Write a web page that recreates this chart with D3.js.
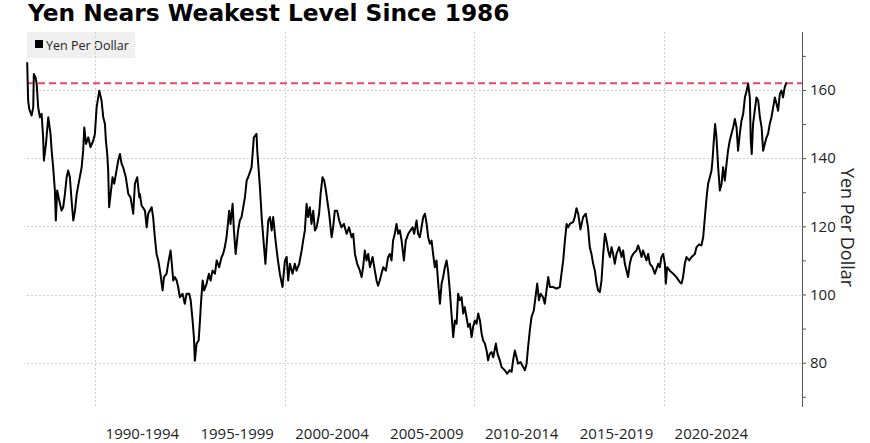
<!DOCTYPE html>
<html>
<head>
<meta charset="utf-8">
<script src="https://cdn.jsdelivr.net/npm/d3@7"></script>
<style>
	body { margin: 0; background: #fff; }
	svg { display: block; }
</style>
</head>
<body>
<svg id="chart" width="870" height="443"></svg>
<script>
// values (decimal year, yen per dollar)
var years = [
	1986.43, 1986.48, 1986.54, 1986.66, 1986.75, 1986.78, 1986.87, 1986.93, 1987.01, 1987.10,
	1987.19, 1987.27, 1987.31, 1987.42, 1987.54, 1987.66, 1987.72, 1987.80, 1987.89, 1987.94,
	1988.01, 1988.12, 1988.24, 1988.33, 1988.42, 1988.51, 1988.59, 1988.68, 1988.77, 1988.86,
	1988.95, 1989.04, 1989.17, 1989.30, 1989.38, 1989.44, 1989.53, 1989.65, 1989.77, 1989.91,
	1990.00, 1990.09, 1990.23, 1990.35, 1990.44, 1990.53, 1990.58, 1990.65, 1990.70, 1990.75,
	1990.83, 1990.93, 1991.02, 1991.14, 1991.23, 1991.32, 1991.41, 1991.49, 1991.63, 1991.76,
	1991.88, 1992.02, 1992.11, 1992.23, 1992.34, 1992.37, 1992.46, 1992.64, 1992.73, 1992.81,
	1992.99, 1993.07, 1993.16, 1993.25, 1993.34, 1993.43, 1993.57, 1993.64, 1993.78, 1993.86,
	1993.99, 1994.04, 1994.13, 1994.22, 1994.31, 1994.39, 1994.48, 1994.62, 1994.74, 1994.83,
	1994.97, 1995.05, 1995.15, 1995.22, 1995.27, 1995.36, 1995.47, 1995.54, 1995.59, 1995.68,
	1995.76, 1995.89, 1996.01, 1996.10, 1996.20, 1996.33, 1996.42, 1996.55, 1996.68, 1996.76,
	1996.85, 1996.94, 1997.03, 1997.08, 1997.15, 1997.26, 1997.33, 1997.42, 1997.55, 1997.64,
	1997.73, 1997.91, 1998.00, 1998.08, 1998.26, 1998.38, 1998.52, 1998.56, 1998.70, 1998.80,
	1998.99, 1999.14, 1999.23, 1999.32, 1999.40, 1999.54, 1999.65, 1999.75, 1999.89, 2000.02,
	2000.11, 2000.19, 2000.28, 2000.42, 2000.54, 2000.63, 2000.77, 2000.90, 2000.98, 2001.07,
	2001.16, 2001.24, 2001.33, 2001.42, 2001.51, 2001.60, 2001.69, 2001.82, 2001.90, 2002.00,
	2002.09, 2002.18, 2002.25, 2002.35, 2002.48, 2002.56, 2002.65, 2002.77, 2002.88, 2003.00,
	2003.13, 2003.27, 2003.40, 2003.53, 2003.62, 2003.71, 2003.83, 2003.97, 2004.06, 2004.14,
	2004.23, 2004.32, 2004.41, 2004.50, 2004.64, 2004.76, 2004.85, 2004.93, 2005.02, 2005.11,
	2005.20, 2005.34, 2005.46, 2005.55, 2005.64, 2005.72, 2005.81, 2005.90, 2005.99, 2006.08,
	2006.17, 2006.29, 2006.39, 2006.52, 2006.64, 2006.75, 2006.83, 2006.96, 2007.04, 2007.13,
	2007.22, 2007.31, 2007.40, 2007.49, 2007.57, 2007.66, 2007.75, 2007.83, 2007.92, 2008.01,
	2008.10, 2008.19, 2008.28, 2008.36, 2008.45, 2008.54, 2008.62, 2008.71, 2008.80, 2008.89,
	2008.98, 2009.07, 2009.15, 2009.24, 2009.33, 2009.42, 2009.50, 2009.59, 2009.68, 2009.77,
	2009.86, 2009.94, 2010.03, 2010.12, 2010.21, 2010.30, 2010.39, 2010.47, 2010.56, 2010.65,
	2010.73, 2010.82, 2010.91, 2011.00, 2011.14, 2011.23, 2011.35, 2011.44, 2011.61, 2011.73,
	2011.88, 2011.97, 2012.05, 2012.14, 2012.23, 2012.31, 2012.44, 2012.58, 2012.67, 2012.76,
	2012.84, 2012.93, 2013.02, 2013.14, 2013.25, 2013.32, 2013.41, 2013.50, 2013.63, 2013.72,
	2013.81, 2013.90, 2013.99, 2014.16, 2014.34, 2014.51, 2014.60, 2014.69, 2014.78, 2014.87,
	2014.95, 2015.04, 2015.21, 2015.30, 2015.39, 2015.48, 2015.60, 2015.74, 2015.88, 2016.00,
	2016.09, 2016.18, 2016.27, 2016.36, 2016.45, 2016.53, 2016.62, 2016.71, 2016.80, 2016.89,
	2016.97, 2017.06, 2017.15, 2017.24, 2017.32, 2017.41, 2017.50, 2017.64, 2017.77, 2017.85,
	2017.94, 2018.03, 2018.11, 2018.20, 2018.29, 2018.38, 2018.55, 2018.64, 2018.73, 2018.82,
	2018.90, 2018.99, 2019.08, 2019.17, 2019.26, 2019.40, 2019.52, 2019.61, 2019.70, 2019.78,
	2019.87, 2019.96, 2020.05, 2020.10, 2020.17, 2020.31, 2020.49, 2020.66, 2020.84, 2020.93,
	2021.01, 2021.10, 2021.19, 2021.33, 2021.46, 2021.63, 2021.72, 2021.86, 2021.98, 2022.07,
	2022.16, 2022.25, 2022.33, 2022.42, 2022.51, 2022.56, 2022.63, 2022.70, 2022.77, 2022.86,
	2022.95, 2023.04, 2023.12, 2023.21, 2023.30, 2023.38, 2023.47, 2023.56, 2023.65, 2023.74,
	2023.83, 2023.91, 2024.00, 2024.09, 2024.18, 2024.27, 2024.36, 2024.44, 2024.53, 2024.58,
	2024.63, 2024.70, 2024.79, 2024.88, 2024.97, 2025.06, 2025.15, 2025.23, 2025.32, 2025.41,
	2025.49, 2025.58, 2025.67, 2025.76, 2025.85, 2025.94, 2026.02, 2026.11, 2026.20, 2026.28,
	2026.37, 2026.46
];

var yenPerDollar = [
	168.1, 156.9, 154.4, 152.5, 154.9, 164.7, 163.7, 161.8, 154.9, 152.0,
	153.0, 146.1, 139.3, 144.2, 152.0, 147.1, 142.2, 137.3, 130.5, 121.7,
	130.5, 127.6, 124.6, 125.6, 129.5, 134.4, 136.4, 134.4, 127.6, 121.7,
	124.6, 129.5, 133.4, 137.3, 142.2, 149.0, 144.2, 146.1, 143.2, 145.1,
	147.1, 154.9, 159.8, 156.9, 152.0, 150.0, 145.1, 141.2, 136.4, 125.6,
	129.5, 134.4, 132.5, 136.4, 139.3, 141.2, 138.3, 137.3, 134.4, 129.5,
	128.5, 123.7, 132.5, 134.4, 128.5, 129.5, 126.1, 124.6, 119.7, 123.7,
	125.6, 122.7, 116.8, 111.9, 110.0, 107.0, 101.2, 105.1, 106.1, 109.0,
	112.9, 110.0, 104.1, 105.1, 104.1, 102.2, 99.2, 100.2, 97.3, 100.2,
	100.2, 98.3, 92.4, 87.5, 80.6, 85.6, 86.5, 92.4, 97.3, 104.1,
	101.2, 103.2, 106.1, 104.1, 107.0, 106.1, 110.0, 108.0, 111.0, 111.9,
	113.9, 116.8, 121.7, 124.6, 120.7, 126.6, 118.8, 111.9, 118.8, 121.7,
	122.7, 128.5, 133.4, 134.4, 137.3, 146.1, 147.1, 142.2, 131.5, 122.0,
	109.0, 121.7, 122.7, 118.8, 122.7, 115.0, 110.0, 106.1, 102.2, 110.0,
	111.0, 104.1, 109.0, 106.1, 109.0, 107.0, 109.0, 112.9, 115.8, 118.8,
	126.6, 122.7, 125.6, 120.7, 124.6, 118.8, 119.7, 123.7, 129.5, 134.4,
	133.4, 130.5, 127.6, 123.7, 116.8, 119.7, 124.6, 124.6, 121.7, 119.7,
	120.7, 117.8, 119.7, 116.8, 117.8, 111.9, 109.0, 107.0, 105.1, 108.0,
	112.9, 110.0, 111.9, 108.0, 111.0, 107.0, 104.1, 102.6, 104.1, 106.1,
	108.0, 107.0, 111.0, 111.9, 110.0, 115.8, 117.8, 120.7, 117.8, 118.8,
	115.8, 110.0, 115.8, 117.8, 118.8, 119.7, 117.8, 121.7, 117.8, 116.8,
	119.7, 122.7, 123.7, 120.7, 116.8, 114.9, 115.8, 111.9, 108.0, 110.0,
	103.2, 97.3, 103.2, 105.1, 108.0, 110.0, 107.0, 101.2, 94.4, 87.5,
	92.4, 91.4, 100.2, 98.3, 99.2, 94.4, 96.3, 93.4, 90.5, 91.4,
	87.5, 90.5, 92.4, 91.4, 94.4, 92.4, 88.5, 86.5, 85.6, 83.6,
	80.7, 82.6, 83.1, 81.6, 85.6, 82.6, 80.7, 78.7, 77.8, 76.8,
	77.8, 77.3, 80.7, 83.6, 81.6, 79.7, 80.2, 78.7, 77.8, 79.7,
	84.6, 89.5, 93.4, 95.3, 100.2, 103.2, 98.3, 100.2, 99.2, 97.3,
	101.2, 105.1, 102.2, 102.2, 101.7, 102.2, 106.1, 110.0, 115.8, 120.7,
	119.7, 120.7, 121.2, 122.7, 125.3, 123.7, 119.1, 122.7, 123.7, 119.7,
	113.9, 111.9, 109.0, 107.0, 103.2, 101.2, 100.7, 104.1, 111.9, 117.8,
	115.8, 112.9, 111.0, 113.9, 111.9, 109.0, 111.9, 113.9, 111.0, 112.9,
	109.0, 107.0, 105.1, 109.0, 111.0, 111.9, 112.9, 114.4, 112.9, 111.0,
	112.9, 111.4, 110.0, 111.9, 109.0, 108.0, 106.1, 107.5, 109.0, 108.0,
	111.0, 111.9, 109.0, 103.2, 108.0, 107.0, 106.1, 105.1, 103.6, 103.2,
	105.1, 109.0, 111.0, 110.0, 111.0, 111.9, 113.9, 114.7, 114.4, 116.8,
	122.7, 128.5, 132.5, 134.4, 136.4, 139.3, 145.1, 150.0, 146.1, 137.3,
	130.5, 132.5, 137.3, 133.4, 138.3, 142.2, 145.1, 147.1, 149.0, 151.5,
	149.0, 142.2, 147.1, 151.0, 153.0, 157.8, 159.8, 161.8, 157.8, 145.1,
	141.2, 150.0, 154.0, 157.8, 156.9, 152.0, 149.0, 142.2, 144.2, 146.1,
	147.1, 150.0, 152.0, 154.9, 157.8, 155.9, 153.9, 158.8, 159.8, 157.8,
	160.8, 162.2
];

var refLevel = 162;                      // weakest level marker (dashed)
var rangeLabels = ["1990-1994", "1995-1999", "2000-2004", "2005-2009", "2010-2014", "2015-2019", "2020-2024"];
var gridYears = [1990, 2000, 2010, 2020];
var majorTicks = [80, 100, 120, 140, 160];
var minorTicks = [70, 90, 110, 130, 150, 170];

var svg = d3.select("#chart"),
	margin = {top: 32, left: 27, bottom: 36, right: 68},
	width = +svg.attr("width"),
	height = +svg.attr("height");

var data = years.map((d, i) => ({year: d, value: yenPerDollar[i]}));

var x = d3.scaleLinear()
	.domain([1986.42, 2027.28])
	.range([margin.left, width - margin.right]);

var y = d3.scaleLinear()
	.domain([67, 177])
	.range([height - margin.bottom, margin.top]);

// title
svg.append("text")
	.attr("x", 28)
	.attr("y", 21)
	.style("font-family", "'DejaVu Sans', Verdana, sans-serif")
	.style("font-weight", "bold")
	.style("font-size", "23.3px")
	.attr("fill", "#000")
	.text("Yen Nears Weakest Level Since 1986");

// legend box
var legend = svg.append("g");
legend.append("rect")
	.attr("x", 27).attr("y", 32)
	.attr("width", 108).attr("height", 26)
	.attr("fill", "#f0f0f0");
legend.append("rect")
	.attr("x", 35).attr("y", 40)
	.attr("width", 8).attr("height", 8)
	.attr("fill", "#000");
legend.append("text")
	.attr("x", 46).attr("y", 49.5)
	.style("font-family", "'Open Sans', sans-serif")
	.style("font-size", "12.5px")
	.attr("fill", "#222")
	.text("Yen Per Dollar");

// grid
var grid = svg.append("g")
	.attr("stroke", "#cfcfcf")
	.attr("stroke-width", 1)
	.attr("stroke-dasharray", "2,2");

grid.selectAll(".hgrid")
	.data(majorTicks)
	.enter().append("line")
	.attr("class", "hgrid")
	.attr("x1", margin.left)
	.attr("x2", width - margin.right)
	.attr("y1", d => Math.round(y(d)) + 0.5)
	.attr("y2", d => Math.round(y(d)) + 0.5);

grid.selectAll(".vgrid")
	.data(gridYears)
	.enter().append("line")
	.attr("class", "vgrid")
	.attr("x1", d => Math.round(x(d)) + 0.5)
	.attr("x2", d => Math.round(x(d)) + 0.5)
	.attr("y1", margin.top)
	.attr("y2", height - margin.bottom);

// reference line
svg.append("line")
	.attr("x1", margin.left)
	.attr("x2", width - margin.right)
	.attr("y1", y(refLevel))
	.attr("y2", y(refLevel))
	.attr("stroke", "#e8476b")
	.attr("stroke-width", 2)
	.attr("stroke-dasharray", "7,4");

// the series
var line = d3.line()
	.x(d => x(d.year))
	.y(d => y(d.value));

svg.append("path")
	.datum(data)
	.attr("fill", "none")
	.attr("stroke", "#000")
	.attr("stroke-width", 2)
	.attr("stroke-linejoin", "round")
	.attr("d", line);

// right axis
var yAxis = svg.append("g")
	.attr("transform", `translate(${width - margin.right},0)`)
	.call(d3.axisRight(y)
		.tickValues(majorTicks.concat(minorTicks))
		.tickSize(4)
		.tickPadding(4)
		.tickFormat(d => majorTicks.includes(d) ? d : ""));

yAxis.select(".domain")
	.attr("d", `M0.5,${margin.top}V${height - margin.bottom}`)
	.attr("stroke", "#555");
yAxis.selectAll(".tick line").attr("stroke", "#555");
yAxis.selectAll("text")
	.style("font-family", "'Open Sans', sans-serif")
	.style("font-size", "15px")
	.attr("fill", "#222");

svg.append("text")
	.attr("transform", `translate(841,${(margin.top + height - margin.bottom) / 2 + 8}) rotate(90)`)
	.attr("text-anchor", "middle")
	.style("font-family", "'Open Sans', sans-serif")
	.style("font-size", "18px")
	.attr("fill", "#222")
	.text("Yen Per Dollar");

// x labels, centred on each five-year range
svg.selectAll(".xlabel")
	.data(rangeLabels)
	.enter().append("text")
	.attr("class", "xlabel")
	.attr("x", d => x(+d.slice(0, 4) + 2.5))
	.attr("y", 439)
	.attr("text-anchor", "middle")
	.style("font-family", "'Open Sans', sans-serif")
	.style("font-size", "15px")
	.attr("fill", "#222")
	.text(d => d);
</script>
</body>
</html>
